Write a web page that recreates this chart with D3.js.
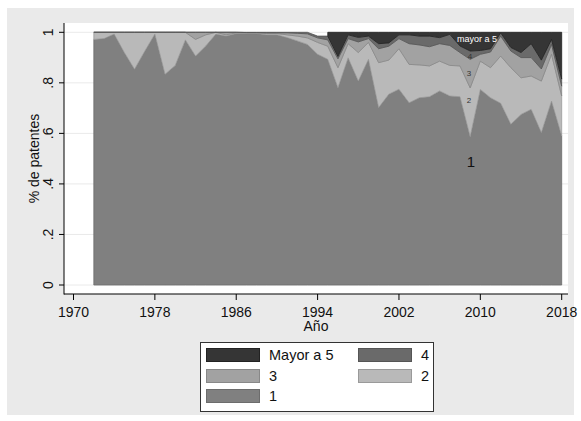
<!DOCTYPE html>
<html><head><meta charset="utf-8">
<script src="https://cdn.jsdelivr.net/npm/d3@7"></script>
<style>body{margin:0;background:#fff}svg{display:block}text{font-family:"Liberation Sans",Arial,sans-serif}</style>
</head><body>
<script>
const years = d3.range(1972, 2019);
const seriesNames = ["1", "2", "3", "4", "Mayor a 5"];
const s1 = [.972,.975,.993,.920,.854,.925,.993,.834,.869,.970,.906,.946,.993,.985,.995,.995,.995,.990,.990,.979,.966,.952,.913,.893,.781,.899,.807,.893,.702,.755,.775,.721,.741,.745,.768,.748,.745,.587,.774,.741,.719,.636,.675,.695,.603,.728,.590];
const s2 = [.028,.025,.007,.080,.146,.075,.007,.166,.131,.030,.066,.044,.007,.005,.003,.002,.002,.005,.005,.011,.019,.026,.047,.052,.079,.056,.113,.067,.178,.135,.160,.152,.130,.122,.118,.121,.122,.193,.112,.119,.187,.224,.145,.132,.204,.185,.158];
const s3 = [0,0,0,0,0,0,0,0,0,0,.028,.010,0,.010,.002,.002,.002,.003,.003,.008,.011,.016,.018,.025,.035,.020,.042,.015,.055,.055,.040,.082,.079,.076,.069,.079,.053,.113,.027,.062,.079,.066,.080,.073,.048,.039,.039];
const s4 = [0,0,0,0,0,0,0,0,0,0,0,0,0,0,0,.001,.001,.002,.002,.002,.004,.006,.007,.015,.010,.015,.018,.010,.020,.013,.015,.035,.035,.042,.024,.044,.026,.033,.015,.013,.013,.014,.020,.055,.035,.020,.028];
const s5 = [null,null,null,null,null,null,null,null,null,null,null,null,null,null,null,null,null,null,null,null,null,null,null,.015,.095,.010,.020,.015,.045,.042,.010,.010,.015,.015,.021,.008,.054,.074,.072,.065,.002,.060,.080,.045,.110,.028,.185];
const xTicks = [1970,1978,1986,1994,2002,2010,2018];
const yTicks = [0,.2,.4,.6,.8,1];
const yTickLabels = ["0",".2",".4",".6",".8","1"];

const fills = ["#808080","#b9b9b9","#a2a2a2","#6a6a6a","#353535"];
const strokes = ["#6c6c6c","#9a9a9a","#888888","#555555","#222222"];

const W=581,H=421;
const svg=d3.select("body").append("svg").attr("width",W).attr("height",H);
svg.append("rect").attr("x",0).attr("y",0).attr("width",W).attr("height",H).attr("fill","#fff");
svg.append("rect").attr("x",7).attr("y",8).attr("width",567).attr("height",407).attr("fill","#eaeaea");
const P={l:64,r:568,t:23,b:294};
svg.append("rect").attr("x",P.l).attr("y",P.t).attr("width",P.r-P.l).attr("height",P.b-P.t).attr("fill","#fff");

const x=d3.scaleLinear().domain([1970,2018]).range([73.5,561.7]);
const y=d3.scaleLinear().domain([0,1]).range([285,32.3]);

// grid
svg.append("g").selectAll("line").data(yTicks).join("line")
  .attr("x1",P.l).attr("x2",P.r).attr("y1",d=>y(d)).attr("y2",d=>y(d))
  .attr("stroke","#eaeaea").attr("stroke-width",1);

const rows=years.map((yr,i)=>({year:yr,"1":s1[i],"2":s2[i],"3":s3[i],"4":s4[i],"Mayor a 5":s5[i]==null?0:s5[i],has5:s5[i]!=null}));
const stack=d3.stack().keys(seriesNames)(rows);
const g=svg.append("g");
stack.forEach((layer,k)=>{
  const area=d3.area().x(d=>x(d.data.year)).y0(d=>y(d[0])).y1(d=>y(d[1]));
  if(k===4) area.defined(d=>d.data.has5);
  g.append("path").datum(layer).attr("d",area).attr("fill",fills[k])
   .attr("stroke",strokes[k]).attr("stroke-width",0.8).attr("stroke-linejoin","round");
});

// in-plot labels
svg.append("text").attr("x",477).attr("y",42).attr("text-anchor","middle").attr("font-size",9).attr("fill","#fff").text("mayor a 5");
svg.append("text").attr("x",470).attr("y",59).attr("text-anchor","middle").attr("font-size",8).attr("fill","#333").text("4");
svg.append("text").attr("x",469).attr("y",76).attr("text-anchor","middle").attr("font-size",8).attr("fill","#333").text("3");
svg.append("text").attr("x",469).attr("y",103).attr("text-anchor","middle").attr("font-size",8).attr("fill","#333").text("2");
svg.append("text").attr("x",471).attr("y",167).attr("text-anchor","middle").attr("font-size",15).attr("fill","#111").text("1");

// axes
const ax=svg.append("g").attr("stroke","#000");
ax.append("line").attr("x1",P.l).attr("x2",P.l).attr("y1",P.t).attr("y2",P.b+0.5);
ax.append("line").attr("x1",P.l).attr("x2",P.r).attr("y1",P.b).attr("y2",P.b);
svg.append("g").selectAll("line").data(yTicks).join("line")
  .attr("x1",P.l-5).attr("x2",P.l).attr("y1",d=>y(d)).attr("y2",d=>y(d)).attr("stroke","#000");
svg.append("g").selectAll("text").data(yTicks).join("text")
  .attr("transform",d=>`translate(53,${y(d)}) rotate(-90)`).attr("text-anchor","middle")
  .attr("font-size",14).attr("fill","#111").text((d,i)=>yTickLabels[i]);
svg.append("g").selectAll("line").data(xTicks).join("line")
  .attr("x1",d=>x(d)).attr("x2",d=>x(d)).attr("y1",P.b).attr("y2",P.b+6).attr("stroke","#000");
svg.append("g").selectAll("text").data(xTicks).join("text")
  .attr("x",d=>x(d)).attr("y",316.5).attr("text-anchor","middle")
  .attr("font-size",14).attr("fill","#111").text(d=>d);
svg.append("text").attr("x",(P.l+P.r)/2).attr("y",331).attr("text-anchor","middle").attr("font-size",14).attr("fill","#111").text("Año");
svg.append("text").attr("transform",`translate(39,${(P.t+P.b)/2}) rotate(-90)`).attr("text-anchor","middle").attr("font-size",14).attr("fill","#111").text("% de patentes");

// legend
const L=svg.append("g");
L.append("rect").attr("x",200.5).attr("y",342.5).attr("width",233).attr("height",69).attr("fill","#fff").attr("stroke","#333");
const legItems=[{k:4,x:206,y:348},{k:3,x:358,y:348},{k:2,x:206,y:369},{k:1,x:358,y:369},{k:0,x:206,y:389}];
legItems.forEach(it=>{
  L.append("rect").attr("x",it.x+0.5).attr("y",it.y+0.5).attr("width",53).attr("height",13)
   .attr("fill",fills[it.k]).attr("stroke",strokes[it.k]);
  L.append("text").attr("x",it.x+63).attr("y",it.y+12).attr("font-size",14.5).attr("fill","#111").text(seriesNames[it.k]);
});
</script>
</body></html>
